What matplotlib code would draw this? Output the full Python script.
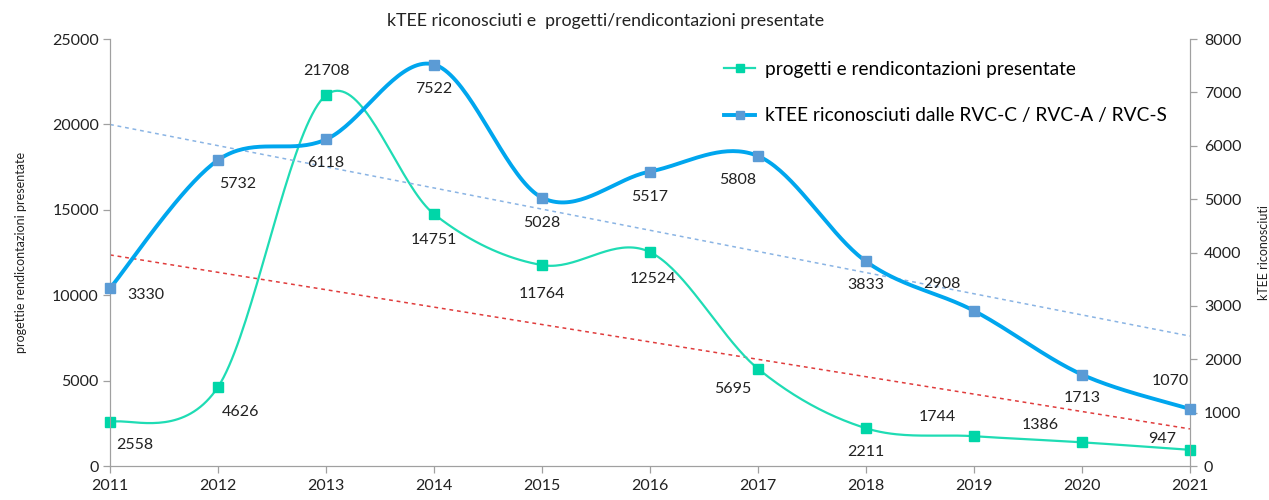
import numpy as np
import matplotlib.pyplot as plt
from matplotlib.lines import Line2D

plt.rcParams['font.family'] = ['Lato', 'DejaVu Sans']

anni = [2011, 2012, 2013, 2014, 2015, 2016, 2017, 2018, 2019, 2020, 2021]
progetti = [2558, 4626, 21708, 14751, 11764, 12524, 5695, 2211, 1744, 1386, 947]
ktee = [3330, 5732, 6118, 7522, 5028, 5517, 5808, 3833, 2908, 1713, 1070]

# spostamento delle etichette (pixel)
off_prog = [(25, -23), (23, -25), (0, 24), (0, -26), (0, -29), (3, -27),
            (-25, -20), (0, -24), (-37, 19), (-42, 17), (-28, 11)]
off_ktee = [(36, -7), (20, -24), (0, -24), (0, -24), (0, -25), (0, -25),
            (-20, -24), (0, -24), (-32, 27), (0, -23), (-20, 28)]

verde = '#1fdcb4'
verde_m = '#00d6a8'
blu = '#00a6ee'
blu_m = '#5b9bd5'


def smooth(x, y, n=40):
    # curva tipo Excel (Catmull-Rom / Bezier)
    x = np.asarray(x, float)
    y = np.asarray(y, float)
    p = np.column_stack([x, y])
    out = []
    for i in range(len(p) - 1):
        p0 = p[i - 1] if i > 0 else p[i]
        p3 = p[i + 2] if i + 2 < len(p) else p[i + 1]
        c1 = p[i] + (p[i + 1] - p0) / 6
        c2 = p[i + 1] - (p3 - p[i]) / 6
        t = np.linspace(0, 1, n)[:, None]
        seg = ((1 - t) ** 3 * p[i] + 3 * (1 - t) ** 2 * t * c1
               + 3 * (1 - t) * t ** 2 * c2 + t ** 3 * p[i + 1])
        out.append(seg if i == 0 else seg[1:])
    out = np.vstack(out)
    return out[:, 0], out[:, 1]


fig = plt.figure(figsize=(12.69, 5.0), dpi=100)
ax = fig.add_axes([0.0867, 0.068, 0.851, 0.854])
ax2 = ax.twinx()

# linee di tendenza
xa = np.array(anni, float)
k1 = np.polyfit(xa, progetti, 1)
k2 = np.polyfit(xa, ktee, 1)
ax.plot(xa, np.polyval(k1, xa), ls=(0, (2.5, 2.5)), color='#e03c3c', lw=1.1, zorder=1)
ax2.plot(xa, np.polyval(k2, xa), ls=(0, (2.5, 2.5)), color='#8ab4e4', lw=1.1, zorder=1)

sx, sy = smooth(anni, progetti)
ax.plot(sx, sy, color=verde, lw=1.6, zorder=3)
ax.plot(anni, progetti, 's', color=verde_m, ms=6.5, zorder=4, clip_on=False)

bx, by = smooth(anni, ktee)
ax2.plot(bx, by, color=blu, lw=2.8, zorder=3)
ax2.plot(anni, ktee, 's', color=blu_m, ms=6.5, zorder=4, clip_on=False)

for x, v, o in zip(anni, progetti, off_prog):
    ax.annotate(str(v), (x, v), xytext=o, textcoords='offset pixels',
                ha='center', va='center', fontsize=11.5, color='#222222', zorder=6)
for x, v, o in zip(anni, ktee, off_ktee):
    ax2.annotate(str(v), (x, v), xytext=o, textcoords='offset pixels',
                 ha='center', va='center', fontsize=11.5, color='#222222', zorder=6)

ax.set_xlim(2011, 2021)
ax.set_ylim(0, 25000)
ax2.set_ylim(0, 8000)
ax.set_xticks(anni)
ax.set_yticks(range(0, 25001, 5000))
ax2.set_yticks(range(0, 8001, 1000))

for a in (ax, ax2):
    a.spines['top'].set_visible(False)
    for s in ('left', 'right', 'bottom'):
        a.spines[s].set_color('#a0a0a0')
    a.tick_params(colors='#a0a0a0', labelcolor='#222222', labelsize=11.5,
                  length=5, width=0.9)
ax.tick_params(axis='x', pad=4)
ax.tick_params(axis='y', pad=3)
ax2.tick_params(axis='y', pad=5)

ax.set_ylabel('progettie rendicontazioni presentate', fontsize=9, color='#222222', labelpad=18)
ax2.set_ylabel('kTEE riconosciuti', fontsize=9, color='#222222', labelpad=12)

fig.text(0.477, 0.958, 'kTEE riconosciuti e  progetti/rendicontazioni presentate',
         ha='center', va='center', fontsize=12.8, color='#222222')

handles = [
    Line2D([], [], color=verde, lw=1.6, marker='s', markerfacecolor=verde_m,
           markeredgecolor=verde_m, ms=6),
    Line2D([], [], color=blu, lw=2.8, marker='s', markerfacecolor=blu_m,
           markeredgecolor=blu_m, ms=6),
]
ax.legend(handles, ['progetti e rendicontazioni presentate',
                    'kTEE riconosciuti dalle RVC-C / RVC-A / RVC-S'],
          loc='upper left', bbox_to_anchor=(0.553, 0.99), frameon=False,
          fontsize=13.8, labelspacing=1.55, handlelength=1.6, handletextpad=0.5)

fig.savefig('out.png', dpi=100)
